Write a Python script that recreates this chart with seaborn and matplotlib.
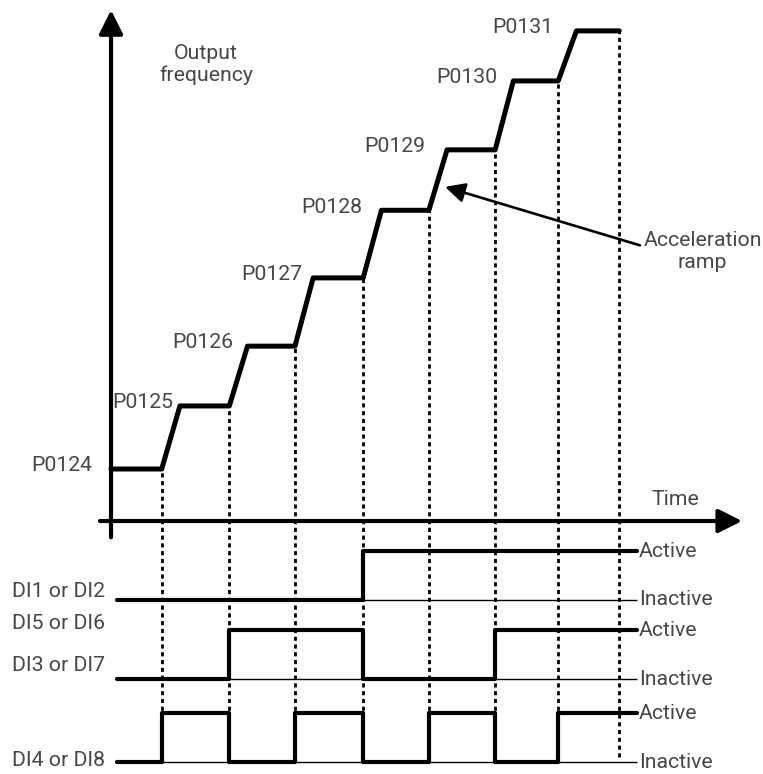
import numpy as np
import pandas as pd
import seaborn as sns
import matplotlib.pyplot as plt

# multi-speed: output frequency steps selected by three digital inputs
param_labels = ['P0124', 'P0125', 'P0126', 'P0127', 'P0128', 'P0129', 'P0130', 'P0131']
freq_levels = [8.0, 17.7, 26.9, 37.4, 47.8, 57.1, 67.7, 75.4]      # Hz (arbitrary)
switch_times = [0.78, 1.82, 2.83, 3.88, 4.89, 5.91, 6.88, 7.82]    # s (arbitrary)
ramp_time = 0.28

di1_states = [0, 0, 0, 0, 1, 1, 1, 1]   # DI1 or DI2
di3_states = [0, 0, 1, 1, 0, 0, 1, 1]   # DI3 or DI7 (DI5 or DI6)
di4_states = [0, 1, 0, 1, 0, 1, 0, 1]   # DI4 or DI8

sns.set_style('white')
plt.rcParams['font.family'] = ['Roboto', 'DejaVu Sans']
txt = dict(fontsize=15.3, color='#474747', fontweight='normal')

fig = plt.figure(figsize=(7.63, 7.74), dpi=100)
ax = fig.add_axes([0, 0, 1, 1])
ax.set_xlim(-1.708, 10.031)
ax.set_ylim(-38.92, 80.15)
ax.set_axis_off()

# axes arrows
ax.annotate('', xy=(0, 78.6), xytext=(0, -2.5),
            arrowprops=dict(arrowstyle='-|>', lw=3, color='black', mutation_scale=36,
                            shrinkA=0, shrinkB=0))
ax.annotate('', xy=(9.71, 0), xytext=(-0.17, 0),
            arrowprops=dict(arrowstyle='-|>', lw=3, color='black', mutation_scale=36,
                            shrinkA=0, shrinkB=0))
ax.text(1.46, 70.2, 'Output\nfrequency', ha='center', va='center', linespacing=1.2, **txt)
ax.text(8.68, 3.3, 'Time', ha='center', va='center', **txt)

# output frequency profile
t_pts = [0.0]
f_pts = [freq_levels[0]]
for i in range(1, len(freq_levels)):
    t_pts += [switch_times[i - 1], switch_times[i - 1] + ramp_time]
    f_pts += [freq_levels[i - 1], freq_levels[i]]
t_pts.append(switch_times[-1])
f_pts.append(freq_levels[-1])
df_freq = pd.DataFrame({'t': t_pts, 'f': f_pts})
sns.lineplot(data=df_freq, x='t', y='f', sort=False, estimator=None,
             color='black', lw=3.6, ax=ax)

# dotted guides
for i, s in enumerate(switch_times):
    ax.vlines(s, -36.3, freq_levels[i], colors='black', lw=2.0,
              linestyles=(0, (1.5, 1.3)))

# parameter labels
label_right = [-0.29, 0.95, 1.88, 2.94, 3.86, 4.83, 5.95, 6.80]
for lab, xr, f in zip(param_labels, label_right, freq_levels):
    ax.text(xr, f + 0.5, lab, ha='right', va='center', **txt)

# acceleration ramp pointer
ax.annotate('', xy=(5.14, 51.4), xytext=(8.14, 42.4),
            arrowprops=dict(arrowstyle='-|>', lw=1.9, color='black', mutation_scale=30,
                            shrinkA=0, shrinkB=0))
ax.text(9.1, 41.4, 'Acceleration\nramp', ha='center', va='center', linespacing=1.2, **txt)

# digital inputs
t_start, t_end = 0.09, 8.09
edges = [t_start] + switch_times[:-1] + [t_end]
signals = [
    (di1_states, -12.15, -4.62),
    (di3_states, -24.31, -16.77),
    (di4_states, -37.08, -29.54),
]
for states, low, high in signals:
    ax.hlines(low, t_start, t_end, colors='black', lw=1)
    vals = [high if s else low for s in states] + [high if states[-1] else low]
    df_sig = pd.DataFrame({'t': edges, 'v': vals})
    sns.lineplot(data=df_sig, x='t', y='v', sort=False, estimator=None,
                 drawstyle='steps-post', color='black', lw=3, ax=ax)
    ax.text(8.12, high, 'Active', ha='left', va='center', **txt)
    ax.text(8.12, low, 'Inactive', ha='left', va='center', **txt)

ax.text(-1.52, -10.9, 'DI1 or DI2', ha='left', va='center', **txt)
ax.text(-1.52, -15.7, 'DI5 or DI6', ha='left', va='center', **txt)
ax.text(-1.52, -22.3, 'DI3 or DI7', ha='left', va='center', **txt)
ax.text(-1.52, -36.9, 'DI4 or DI8', ha='left', va='center', **txt)

plt.savefig('out.png', dpi=100)
